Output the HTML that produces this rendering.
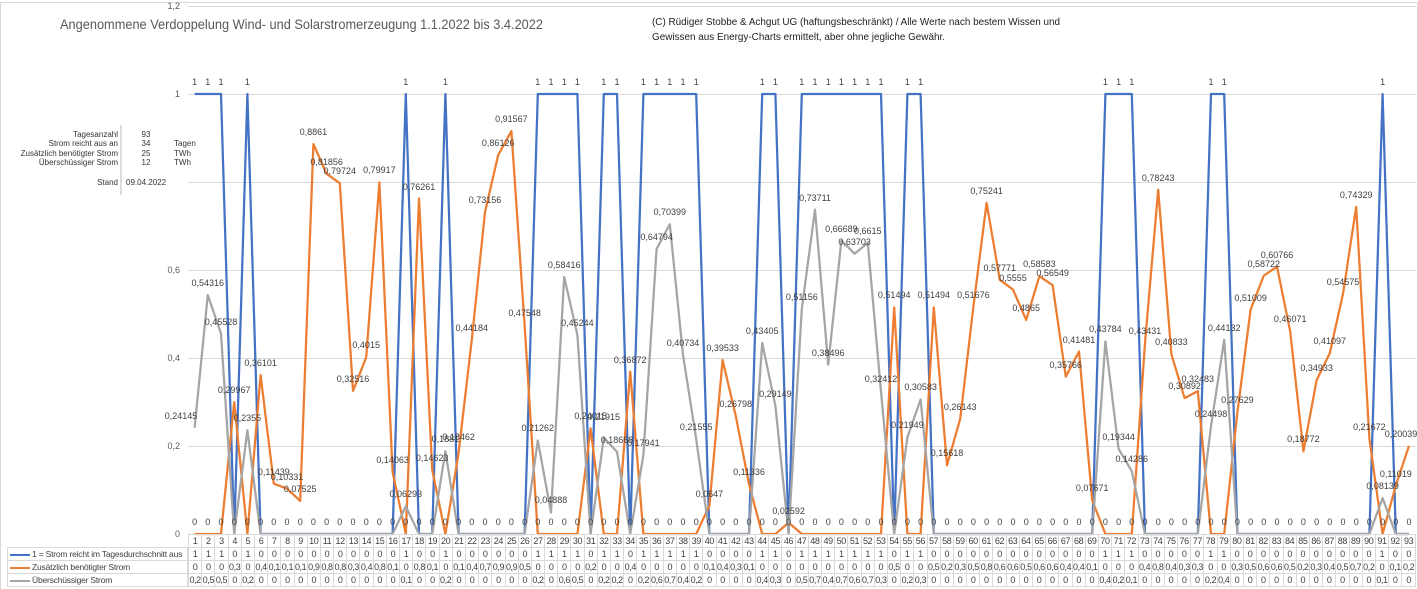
<!DOCTYPE html>
<html><head><meta charset="utf-8"><style>
body{margin:0;width:1418px;height:589px;overflow:hidden;background:#fff;font-family:"Liberation Sans",sans-serif;position:relative}
svg{position:absolute;left:0;top:0}
table{position:absolute;border-collapse:collapse;table-layout:fixed;font-size:9px;color:#404040}
td{border:1px solid #d9d9d9;padding:0;text-align:center;white-space:nowrap;overflow:hidden;height:12px;line-height:12px}
#t td{width:12.2px;letter-spacing:-0.4px}
#l td{text-align:left;padding-left:2px;font-size:8.5px;letter-spacing:-0.2px}
.sw{display:inline-block;width:20px;height:2px;vertical-align:middle;margin-right:2px}
</style></head><body>
<svg width="1418" height="589" viewBox="0 0 1418 589">
<rect x="0.5" y="2.5" width="1417" height="600" fill="none" stroke="#d9d9d9"/>
<g stroke="#d9d9d9" stroke-width="1">
<line x1="188" y1="6.5" x2="1416" y2="6.5"/><line x1="188" y1="94.5" x2="1416" y2="94.5"/><line x1="188" y1="182.5" x2="1416" y2="182.5"/><line x1="188" y1="270.5" x2="1416" y2="270.5"/><line x1="188" y1="358.5" x2="1416" y2="358.5"/><line x1="188" y1="446.5" x2="1416" y2="446.5"/>
</g>
<g font-size="9" fill="#595959" text-anchor="end">
<text x="180" y="9">1,2</text><text x="180" y="97">1</text><text x="180" y="273">0,6</text><text x="180" y="361">0,4</text><text x="180" y="449">0,2</text><text x="180" y="537">0</text>
</g>
<text x="60" y="29" font-size="14" fill="#595959" textLength="483" lengthAdjust="spacingAndGlyphs">Angenommene Verdoppelung Wind- und Solarstromerzeugung 1.1.2022 bis 3.4.2022</text>
<text x="652" y="25" font-size="10" fill="#222" textLength="408" lengthAdjust="spacingAndGlyphs">(C) Rüdiger Stobbe &amp; Achgut UG (haftungsbeschränkt) / Alle Werte nach bestem Wissen und</text>
<text x="652" y="40" font-size="10" fill="#222" textLength="293" lengthAdjust="spacingAndGlyphs">Gewissen aus Energy-Charts ermittelt, aber ohne jegliche Gewähr.</text>
<g font-size="8" fill="#333">
<g text-anchor="end"><text x="118" y="137">Tagesanzahl</text><text x="118" y="146">Strom reicht aus an</text><text x="118" y="156">Zusätzlich benötigter Strom</text><text x="118" y="165">Überschüssiger Strom</text><text x="118" y="185">Stand</text></g>
<g text-anchor="middle"><text x="146" y="137">93</text><text x="146" y="146">34</text><text x="146" y="156">25</text><text x="146" y="165">12</text></g>
<text x="174" y="146">Tagen</text><text x="174" y="156">TWh</text><text x="174" y="165">TWh</text>
<text x="126" y="185">09.04.2022</text>
</g>
<line x1="121" y1="125" x2="121" y2="195" stroke="#bbb"/>
<g transform="translate(194.6,534) scale(13.2,-440)" fill="none" stroke-width="2.25" stroke-linejoin="round">
<polyline vector-effect="non-scaling-stroke" stroke="#4472C4" points="0,1 1,1 2,1 3,0 4,1 5,0 6,0 7,0 8,0 9,0 10,0 11,0 12,0 13,0 14,0 15,0 16,1 17,0 18,0 19,1 20,0 21,0 22,0 23,0 24,0 25,0 26,1 27,1 28,1 29,1 30,0 31,1 32,1 33,0 34,1 35,1 36,1 37,1 38,1 39,0 40,0 41,0 42,0 43,1 44,1 45,0 46,1 47,1 48,1 49,1 50,1 51,1 52,1 53,0 54,1 55,1 56,0 57,0 58,0 59,0 60,0 61,0 62,0 63,0 64,0 65,0 66,0 67,0 68,0 69,1 70,1 71,1 72,0 73,0 74,0 75,0 76,0 77,1 78,1 79,0 80,0 81,0 82,0 83,0 84,0 85,0 86,0 87,0 88,0 89,0 90,1 91,0 92,0"/>
<polyline vector-effect="non-scaling-stroke" stroke="#ED7D31" points="0,0 1,0 2,0 3,.29967 4,0 5,.36101 6,.11439 7,.10331 8,.07525 9,.8861 10,.81856 11,.79724 12,.32516 13,.4015 14,.79917 15,.14063 16,0 17,.76261 18,.14623 19,0 20,.18462 21,.44184 22,.73156 23,.86126 24,.91567 25,.47548 26,0 27,0 28,0 29,0 30,.24015 31,0 32,0 33,.36872 34,0 35,0 36,0 37,0 38,0 39,.0647 40,.39533 41,.26798 42,.11336 43,0 44,0 45,.02592 46,0 47,0 48,0 49,0 50,0 51,0 52,0 53,.51494 54,0 55,0 56,.51494 57,.15618 58,.26143 59,.51676 60,.75241 61,.57771 62,.5555 63,.4865 64,.58583 65,.56549 66,.35766 67,.41481 68,.07671 69,0 70,0 71,0 72,.43431 73,.78243 74,.40833 75,.30892 76,.32483 77,0 78,0 79,.27629 80,.51009 81,.58722 82,.60766 83,.46071 84,.18772 85,.34933 86,.41097 87,.54575 88,.74329 89,.21672 90,0 91,.11019 92,.20039"/>
<polyline vector-effect="non-scaling-stroke" stroke="#A5A5A5" points="0,.24145 1,.54316 2,.45528 3,0 4,.2355 5,0 6,0 7,0 8,0 9,0 10,0 11,0 12,0 13,0 14,0 15,0 16,.06293 17,0 18,0 19,.1881 20,0 21,0 22,0 23,0 24,0 25,0 26,.21262 27,.04888 28,.58416 29,.45244 30,0 31,.21915 32,.18668 33,0 34,.17941 35,.64794 36,.70399 37,.40734 38,.21555 39,0 40,0 41,0 42,0 43,.43405 44,.29149 45,0 46,.51156 47,.73711 48,.38496 49,.66689 50,.63703 51,.6615 52,.32412 53,0 54,.21949 55,.30583 56,0 57,0 58,0 59,0 60,0 61,0 62,0 63,0 64,0 65,0 66,0 67,0 68,0 69,.43784 70,.19344 71,.14286 72,0 73,0 74,0 75,0 76,0 77,.24498 78,.44132 79,0 80,0 81,0 82,0 83,0 84,0 85,0 86,0 87,0 88,0 89,0 90,.08139 91,0 92,0"/>
</g>
<g font-size="9" fill="#404040" text-anchor="middle">
<text x="194.6" y="85">1</text><text x="207.8" y="85">1</text><text x="221" y="85">1</text><text x="247.4" y="85">1</text><text x="405.8" y="85">1</text><text x="445.4" y="85">1</text><text x="537.8" y="85">1</text><text x="551" y="85">1</text><text x="564.2" y="85">1</text><text x="577.4" y="85">1</text><text x="603.8" y="85">1</text><text x="617" y="85">1</text><text x="643.4" y="85">1</text><text x="656.6" y="85">1</text><text x="669.8" y="85">1</text><text x="683" y="85">1</text><text x="696.2" y="85">1</text><text x="762.2" y="85">1</text><text x="775.4" y="85">1</text><text x="801.8" y="85">1</text><text x="815" y="85">1</text><text x="828.2" y="85">1</text><text x="841.4" y="85">1</text><text x="854.6" y="85">1</text><text x="867.8" y="85">1</text><text x="881" y="85">1</text><text x="907.4" y="85">1</text><text x="920.6" y="85">1</text><text x="1105.4" y="85">1</text><text x="1118.6" y="85">1</text><text x="1131.8" y="85">1</text><text x="1211" y="85">1</text><text x="1224.2" y="85">1</text><text x="1382.6" y="85">1</text>
<text x="194.6" y="525">0</text><text x="207.8" y="525">0</text><text x="221" y="525">0</text><text x="234.2" y="525">0</text><text x="247.4" y="525">0</text><text x="260.6" y="525">0</text><text x="273.8" y="525">0</text><text x="287" y="525">0</text><text x="300.2" y="525">0</text><text x="313.4" y="525">0</text><text x="326.6" y="525">0</text><text x="339.8" y="525">0</text><text x="353" y="525">0</text><text x="366.2" y="525">0</text><text x="379.4" y="525">0</text><text x="392.6" y="525">0</text><text x="405.8" y="525">0</text><text x="419" y="525">0</text><text x="432.2" y="525">0</text><text x="445.4" y="525">0</text><text x="458.6" y="525">0</text><text x="471.8" y="525">0</text><text x="485" y="525">0</text><text x="498.2" y="525">0</text><text x="511.4" y="525">0</text><text x="524.6" y="525">0</text><text x="537.8" y="525">0</text><text x="551" y="525">0</text><text x="564.2" y="525">0</text><text x="577.4" y="525">0</text><text x="590.6" y="525">0</text><text x="603.8" y="525">0</text><text x="617" y="525">0</text><text x="630.2" y="525">0</text><text x="643.4" y="525">0</text><text x="656.6" y="525">0</text><text x="669.8" y="525">0</text><text x="683" y="525">0</text><text x="696.2" y="525">0</text><text x="709.4" y="525">0</text><text x="722.6" y="525">0</text><text x="735.8" y="525">0</text><text x="749" y="525">0</text><text x="762.2" y="525">0</text><text x="775.4" y="525">0</text><text x="788.6" y="525">0</text><text x="801.8" y="525">0</text><text x="815" y="525">0</text><text x="828.2" y="525">0</text><text x="841.4" y="525">0</text><text x="854.6" y="525">0</text><text x="867.8" y="525">0</text><text x="881" y="525">0</text><text x="894.2" y="525">0</text><text x="907.4" y="525">0</text><text x="920.6" y="525">0</text><text x="933.8" y="525">0</text><text x="947" y="525">0</text><text x="960.2" y="525">0</text><text x="973.4" y="525">0</text><text x="986.6" y="525">0</text><text x="999.8" y="525">0</text><text x="1013" y="525">0</text><text x="1026.2" y="525">0</text><text x="1039.4" y="525">0</text><text x="1052.6" y="525">0</text><text x="1065.8" y="525">0</text><text x="1079" y="525">0</text><text x="1092.2" y="525">0</text><text x="1105.4" y="525">0</text><text x="1118.6" y="525">0</text><text x="1131.8" y="525">0</text><text x="1145" y="525">0</text><text x="1158.2" y="525">0</text><text x="1171.4" y="525">0</text><text x="1184.6" y="525">0</text><text x="1197.8" y="525">0</text><text x="1211" y="525">0</text><text x="1224.2" y="525">0</text><text x="1237.4" y="525">0</text><text x="1250.6" y="525">0</text><text x="1263.8" y="525">0</text><text x="1277" y="525">0</text><text x="1290.2" y="525">0</text><text x="1303.4" y="525">0</text><text x="1316.6" y="525">0</text><text x="1329.8" y="525">0</text><text x="1343" y="525">0</text><text x="1356.2" y="525">0</text><text x="1369.4" y="525">0</text><text x="1382.6" y="525">0</text><text x="1395.8" y="525">0</text><text x="1409" y="525">0</text>
<text x="234.2" y="393">0,29967</text><text x="260.6" y="366">0,36101</text><text x="273.8" y="475">0,11439</text><text x="287" y="480">0,10331</text><text x="300.2" y="492">0,07525</text><text x="313.4" y="135">0,8861</text><text x="326.6" y="165">0,81856</text><text x="339.8" y="174">0,79724</text><text x="353" y="382">0,32516</text><text x="366.2" y="348">0,4015</text><text x="379.4" y="173">0,79917</text><text x="392.6" y="463">0,14063</text><text x="419" y="190">0,76261</text><text x="432.2" y="461">0,14623</text><text x="458.6" y="440">0,18462</text><text x="471.8" y="331">0,44184</text><text x="485" y="203">0,73156</text><text x="498.2" y="146">0,86126</text><text x="511.4" y="122">0,91567</text><text x="524.6" y="316">0,47548</text><text x="590.6" y="419">0,24015</text><text x="630.2" y="363">0,36872</text><text x="709.4" y="497">0,0647</text><text x="722.6" y="351">0,39533</text><text x="735.8" y="407">0,26798</text><text x="749" y="475">0,11336</text><text x="788.6" y="514">0,02592</text><text x="894.2" y="298">0,51494</text><text x="933.8" y="298">0,51494</text><text x="947" y="456">0,15618</text><text x="960.2" y="410">0,26143</text><text x="973.4" y="298">0,51676</text><text x="986.6" y="194">0,75241</text><text x="999.8" y="271">0,57771</text><text x="1013" y="281">0,5555</text><text x="1026.2" y="311">0,4865</text><text x="1039.4" y="267">0,58583</text><text x="1052.6" y="276">0,56549</text><text x="1065.8" y="368">0,35766</text><text x="1079" y="343">0,41481</text><text x="1092.2" y="491">0,07671</text><text x="1145" y="334">0,43431</text><text x="1158.2" y="181">0,78243</text><text x="1171.4" y="345">0,40833</text><text x="1184.6" y="389">0,30892</text><text x="1197.8" y="382">0,32483</text><text x="1237.4" y="403">0,27629</text><text x="1250.6" y="301">0,51009</text><text x="1263.8" y="267">0,58722</text><text x="1277" y="258">0,60766</text><text x="1290.2" y="322">0,46071</text><text x="1303.4" y="442">0,18772</text><text x="1316.6" y="371">0,34933</text><text x="1329.8" y="344">0,41097</text><text x="1343" y="285">0,54575</text><text x="1356.2" y="198">0,74329</text><text x="1369.4" y="430">0,21672</text><text x="1395.8" y="477">0,11019</text><text x="1401" y="437">0,20039</text>
<text x="181" y="419">0,24145</text><text x="207.8" y="286">0,54316</text><text x="221" y="325">0,45528</text><text x="247.4" y="421">0,2355</text><text x="405.8" y="497">0,06293</text><text x="445.4" y="442">0,1881</text><text x="537.8" y="431">0,21262</text><text x="551" y="503">0,04888</text><text x="564.2" y="268">0,58416</text><text x="577.4" y="326">0,45244</text><text x="603.8" y="420">0,21915</text><text x="617" y="443">0,18668</text><text x="643.4" y="446">0,17941</text><text x="656.6" y="240">0,64794</text><text x="669.8" y="215">0,70399</text><text x="683" y="346">0,40734</text><text x="696.2" y="430">0,21555</text><text x="762.2" y="334">0,43405</text><text x="775.4" y="397">0,29149</text><text x="801.8" y="300">0,51156</text><text x="815" y="201">0,73711</text><text x="828.2" y="356">0,38496</text><text x="841.4" y="232">0,66689</text><text x="854.6" y="245">0,63703</text><text x="867.8" y="234">0,6615</text><text x="881" y="382">0,32412</text><text x="907.4" y="428">0,21949</text><text x="920.6" y="390">0,30583</text><text x="1105.4" y="332">0,43784</text><text x="1118.6" y="440">0,19344</text><text x="1131.8" y="462">0,14286</text><text x="1211" y="417">0,24498</text><text x="1224.2" y="331">0,44132</text><text x="1382.6" y="489">0,08139</text>
</g>
</svg>
<table id="l" style="left:7px;top:547px;width:181px">
<tr><td><span class="sw" style="background:#4472C4"></span>1 = Strom reicht im Tagesdurchschnitt aus</td></tr>
<tr><td><span class="sw" style="background:#ED7D31"></span>Zusätzlich benötigter Strom</td></tr>
<tr><td><span class="sw" style="background:#A5A5A5"></span>Überschüssiger Strom</td></tr>
</table>
<table id="t" style="left:188px;top:534px;width:1228px">
<tr><td>1</td><td>2</td><td>3</td><td>4</td><td>5</td><td>6</td><td>7</td><td>8</td><td>9</td><td>10</td><td>11</td><td>12</td><td>13</td><td>14</td><td>15</td><td>16</td><td>17</td><td>18</td><td>19</td><td>20</td><td>21</td><td>22</td><td>23</td><td>24</td><td>25</td><td>26</td><td>27</td><td>28</td><td>29</td><td>30</td><td>31</td><td>32</td><td>33</td><td>34</td><td>35</td><td>36</td><td>37</td><td>38</td><td>39</td><td>40</td><td>41</td><td>42</td><td>43</td><td>44</td><td>45</td><td>46</td><td>47</td><td>48</td><td>49</td><td>50</td><td>51</td><td>52</td><td>53</td><td>54</td><td>55</td><td>56</td><td>57</td><td>58</td><td>59</td><td>60</td><td>61</td><td>62</td><td>63</td><td>64</td><td>65</td><td>66</td><td>67</td><td>68</td><td>69</td><td>70</td><td>71</td><td>72</td><td>73</td><td>74</td><td>75</td><td>76</td><td>77</td><td>78</td><td>79</td><td>80</td><td>81</td><td>82</td><td>83</td><td>84</td><td>85</td><td>86</td><td>87</td><td>88</td><td>89</td><td>90</td><td>91</td><td>92</td><td>93</td></tr>
<tr><td>1</td><td>1</td><td>1</td><td>0</td><td>1</td><td>0</td><td>0</td><td>0</td><td>0</td><td>0</td><td>0</td><td>0</td><td>0</td><td>0</td><td>0</td><td>0</td><td>1</td><td>0</td><td>0</td><td>1</td><td>0</td><td>0</td><td>0</td><td>0</td><td>0</td><td>0</td><td>1</td><td>1</td><td>1</td><td>1</td><td>0</td><td>1</td><td>1</td><td>0</td><td>1</td><td>1</td><td>1</td><td>1</td><td>1</td><td>0</td><td>0</td><td>0</td><td>0</td><td>1</td><td>1</td><td>0</td><td>1</td><td>1</td><td>1</td><td>1</td><td>1</td><td>1</td><td>1</td><td>0</td><td>1</td><td>1</td><td>0</td><td>0</td><td>0</td><td>0</td><td>0</td><td>0</td><td>0</td><td>0</td><td>0</td><td>0</td><td>0</td><td>0</td><td>0</td><td>1</td><td>1</td><td>1</td><td>0</td><td>0</td><td>0</td><td>0</td><td>0</td><td>1</td><td>1</td><td>0</td><td>0</td><td>0</td><td>0</td><td>0</td><td>0</td><td>0</td><td>0</td><td>0</td><td>0</td><td>0</td><td>1</td><td>0</td><td>0</td></tr>
<tr><td>0</td><td>0</td><td>0</td><td>0,3</td><td>0</td><td>0,4</td><td>0,1</td><td>0,1</td><td>0,1</td><td>0,9</td><td>0,8</td><td>0,8</td><td>0,3</td><td>0,4</td><td>0,8</td><td>0,1</td><td>0</td><td>0,8</td><td>0,1</td><td>0</td><td>0,1</td><td>0,4</td><td>0,7</td><td>0,9</td><td>0,9</td><td>0,5</td><td>0</td><td>0</td><td>0</td><td>0</td><td>0,2</td><td>0</td><td>0</td><td>0,4</td><td>0</td><td>0</td><td>0</td><td>0</td><td>0</td><td>0,1</td><td>0,4</td><td>0,3</td><td>0,1</td><td>0</td><td>0</td><td>0</td><td>0</td><td>0</td><td>0</td><td>0</td><td>0</td><td>0</td><td>0</td><td>0,5</td><td>0</td><td>0</td><td>0,5</td><td>0,2</td><td>0,3</td><td>0,5</td><td>0,8</td><td>0,6</td><td>0,6</td><td>0,5</td><td>0,6</td><td>0,6</td><td>0,4</td><td>0,4</td><td>0,1</td><td>0</td><td>0</td><td>0</td><td>0,4</td><td>0,8</td><td>0,4</td><td>0,3</td><td>0,3</td><td>0</td><td>0</td><td>0,3</td><td>0,5</td><td>0,6</td><td>0,6</td><td>0,5</td><td>0,2</td><td>0,3</td><td>0,4</td><td>0,5</td><td>0,7</td><td>0,2</td><td>0</td><td>0,1</td><td>0,2</td></tr>
<tr><td>0,2</td><td>0,5</td><td>0,5</td><td>0</td><td>0,2</td><td>0</td><td>0</td><td>0</td><td>0</td><td>0</td><td>0</td><td>0</td><td>0</td><td>0</td><td>0</td><td>0</td><td>0,1</td><td>0</td><td>0</td><td>0,2</td><td>0</td><td>0</td><td>0</td><td>0</td><td>0</td><td>0</td><td>0,2</td><td>0</td><td>0,6</td><td>0,5</td><td>0</td><td>0,2</td><td>0,2</td><td>0</td><td>0,2</td><td>0,6</td><td>0,7</td><td>0,4</td><td>0,2</td><td>0</td><td>0</td><td>0</td><td>0</td><td>0,4</td><td>0,3</td><td>0</td><td>0,5</td><td>0,7</td><td>0,4</td><td>0,7</td><td>0,6</td><td>0,7</td><td>0,3</td><td>0</td><td>0,2</td><td>0,3</td><td>0</td><td>0</td><td>0</td><td>0</td><td>0</td><td>0</td><td>0</td><td>0</td><td>0</td><td>0</td><td>0</td><td>0</td><td>0</td><td>0,4</td><td>0,2</td><td>0,1</td><td>0</td><td>0</td><td>0</td><td>0</td><td>0</td><td>0,2</td><td>0,4</td><td>0</td><td>0</td><td>0</td><td>0</td><td>0</td><td>0</td><td>0</td><td>0</td><td>0</td><td>0</td><td>0</td><td>0,1</td><td>0</td><td>0</td></tr>
</table>
</body></html>
